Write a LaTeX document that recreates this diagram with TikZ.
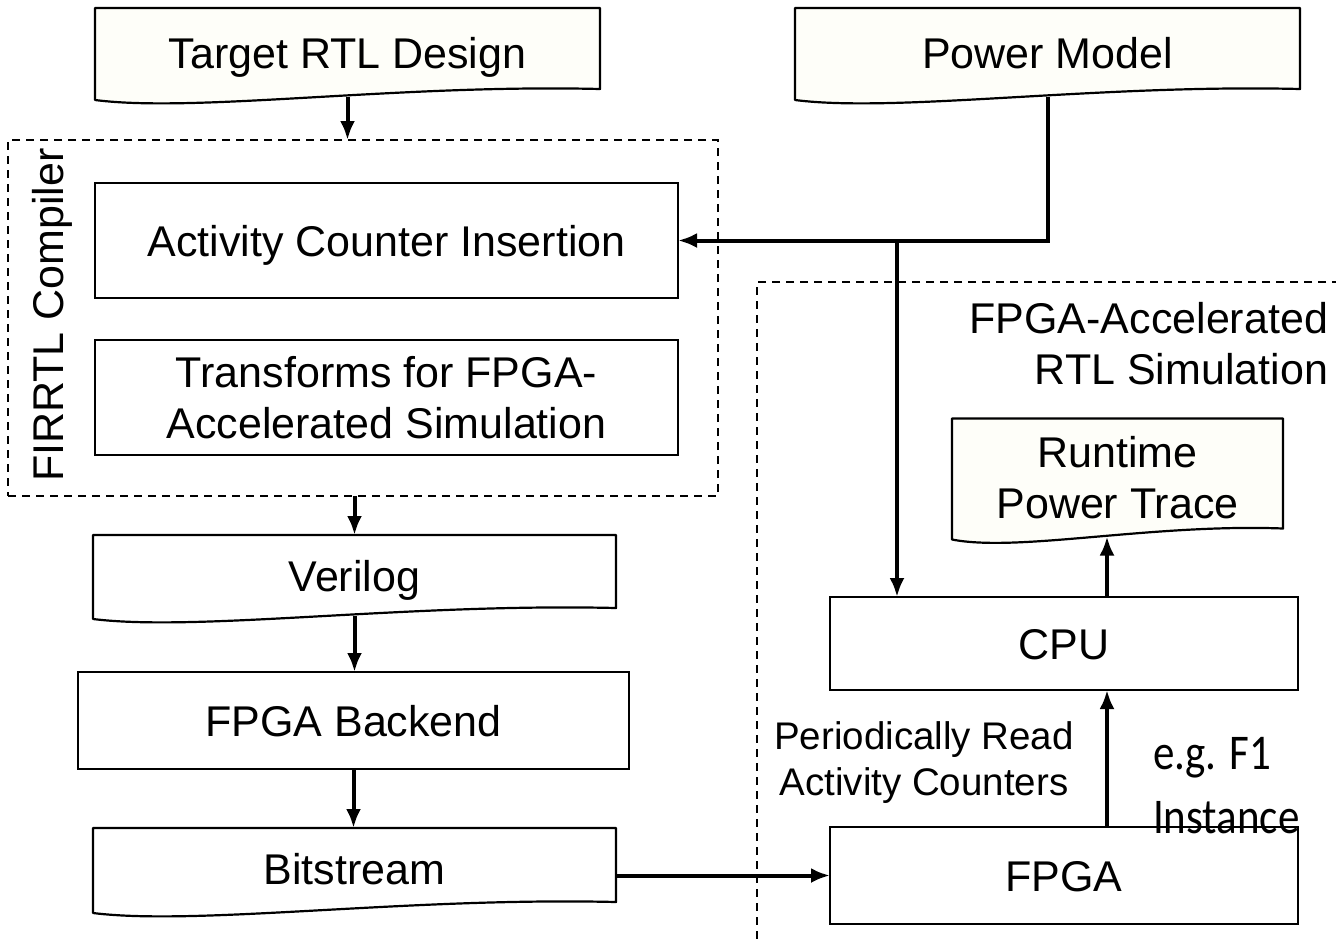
\documentclass[tikz,border=0pt]{standalone}
\usepackage{fontspec}
\setmainfont{Liberation Sans}
\newfontfamily\egfont[FakeStretch=0.86]{Carlito}
\usetikzlibrary{arrows.meta,calc,backgrounds}
\definecolor{paper}{RGB}{254,254,249}

% wavy-bottom document outline around a (text-only) node
\newcommand\docpath[2]{%
  \draw[line width=2.2pt, fill=#2, line join=round]
    (#1.north west) -- (#1.north east) -- ($(#1.south east)+(0,-8)$)
    .. controls ($(#1.south west)!0.6!(#1.south east)+(0,-13)$)
            and ($(#1.south west)!0.2!(#1.south east)+(0,16)$)
    .. ($(#1.south west)+(0,3)$) -- cycle;}

\begin{document}
\begin{tikzpicture}[x=1pt,y=-1pt,
  font=\fontsize{43}{51}\selectfont,
  every node/.style={inner sep=0pt, outer sep=0pt},
  box/.style={draw, line width=2.2pt},
  oneline/.style={text height=31pt, text depth=0pt},
  region/.style={draw, line width=2pt, dash pattern=on 8pt off 6pt},
  flow/.style={line width=4pt, -{Latex[length=19pt,width=15pt]}},
]
\begin{scope}[on background layer]
  \fill[white] (0,0) rectangle (1336,943);
\end{scope}
\useasboundingbox (0,0) rectangle (1336,943);

% inputs
\node[oneline, minimum width=505pt, minimum height=89pt] (tgt) at (347.5,52.5) {Target RTL Design};
\node[oneline, minimum width=505pt, minimum height=89pt] (pm) at (1047.5,52.5) {Power Model};

% compiler passes
\node[region, minimum width=710pt, minimum height=356pt] (fir) at (363,318) {};
\node[oneline, rotate=90] (firlbl) at (48,315) {FIRRTL Compiler};
\node[box, oneline, minimum width=583pt, minimum height=115pt] (aci) at (386.5,240.5) {Activity Counter Insertion};
\node[box, align=center, minimum width=583pt, minimum height=115pt] (tfs) at (386.5,397.5) {Transforms for FPGA-\\Accelerated Simulation};

% FPGA flow
\node[oneline, minimum width=523pt, minimum height=81pt] (vl) at (354.5,575.5) {Verilog};
\node[box, oneline, minimum width=551pt, minimum height=97pt] (be) at (353.5,720.5) {FPGA Backend};
\node[oneline, minimum width=523pt, minimum height=82pt] (bs) at (354.5,869) {Bitstream};

% simulation host
\draw[region] (1340,282) -- (757,282) -- (757,947);
\node[anchor=east, align=right] (simlbl) at (1328,344) {FPGA-Accelerated\\RTL Simulation};
\node[align=center, minimum width=331pt, minimum height=118pt] (rpt) at (1117.5,477.5) {Runtime\\Power Trace};
\node[box, oneline, minimum width=468pt, minimum height=93pt] (cpu) at (1064,643.5) {CPU};
\node[box, oneline, minimum width=468pt, minimum height=97pt] (fpga) at (1064,875.5) {FPGA};
\node[align=center, font=\fontsize{38.5}{46}\selectfont] (readlbl) at (924,763) {Periodically Read\\Activity Counters};
\node[anchor=west, align=left, font=\egfont\fontsize{50}{64}\selectfont] (eglbl) at (1153,786) {e.g. F1\\Instance};

\begin{scope}[on background layer]
  \docpath{tgt}{paper}
  \docpath{pm}{paper}
  \docpath{rpt}{paper}
  \docpath{vl}{white}
  \docpath{bs}{white}
\end{scope}

% connectors
\draw[flow] (tgt.south) -- (tgt.south |- fir.north);
\draw[flow] (pm.south) |- (aci.east);
\coordinate (jn) at (897,240.5);
\draw[flow] (jn) -- (jn |- cpu.north);
\draw[flow] (vl.north |- fir.south) -- (vl.north);
\draw[flow] (vl.south) -- (vl.south |- be.north);
\draw[flow] (be.south) -- (be.south |- bs.north);
\draw[flow] (bs.east |- fpga.west) -- (fpga.west);
\draw[flow] ([xshift=43pt]fpga.north) -- ([xshift=43pt]cpu.south);
\draw[flow] ([xshift=43pt]cpu.north) -- ([xshift=43pt]cpu.north |- rpt.south);
\end{tikzpicture}
\end{document}
